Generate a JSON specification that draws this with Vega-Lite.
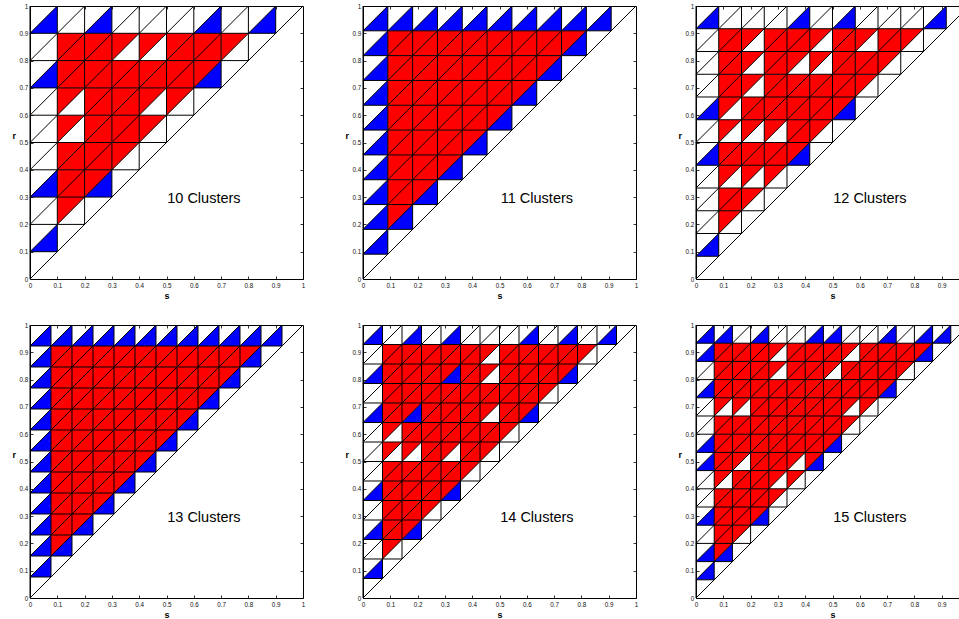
{
"$schema":"https://vega.github.io/schema/vega-lite/v6.json",
"background":"white",
"padding":{"left":11,"top":2,"right":0,"bottom":0},
"data":{"values":[
{"p":10,"label":"10 Clusters"},{"p":11,"label":"11 Clusters"},{"p":12,"label":"12 Clusters"},{"p":13,"label":"13 Clusters"},{"p":14,"label":"14 Clusters"},{"p":15,"label":"15 Clusters"},

{"p":10,"v":0,"w":1,"z":0,"o":1},{"p":10,"v":0.1,"w":0.9,"z":0,"o":1},{"p":10,"v":0.2,"w":0.8,"z":0,"o":1},{"p":10,"v":0.3,"w":0.7,"z":0,"o":1},{"p":10,"v":0.4,"w":0.6,"z":0,"o":1},{"p":10,"v":0.5,"w":0.5,"z":0,"o":1},{"p":10,"v":0.6,"w":0.4,"z":0,"o":1},{"p":10,"v":0.7,"w":0.3,"z":0,"o":1},{"p":10,"v":0.8,"w":0.2,"z":0,"o":1},{"p":10,"v":0.9,"w":0.1,"z":0,"o":1},
{"p":11,"v":0,"w":1,"z":0,"o":1},{"p":11,"v":0.0909,"w":0.9091,"z":0,"o":1},{"p":11,"v":0.1818,"w":0.8182,"z":0,"o":1},{"p":11,"v":0.2727,"w":0.7273,"z":0,"o":1},{"p":11,"v":0.3636,"w":0.6364,"z":0,"o":1},{"p":11,"v":0.4545,"w":0.5455,"z":0,"o":1},{"p":11,"v":0.5455,"w":0.4545,"z":0,"o":1},{"p":11,"v":0.6364,"w":0.3636,"z":0,"o":1},{"p":11,"v":0.7273,"w":0.2727,"z":0,"o":1},{"p":11,"v":0.8182,"w":0.1818,"z":0,"o":1},{"p":11,"v":0.9091,"w":0.0909,"z":0,"o":1},
{"p":12,"v":0,"w":1,"z":0,"o":1},{"p":12,"v":0.0833,"w":0.9167,"z":0,"o":1},{"p":12,"v":0.1667,"w":0.8333,"z":0,"o":1},{"p":12,"v":0.25,"w":0.75,"z":0,"o":1},{"p":12,"v":0.3333,"w":0.6667,"z":0,"o":1},{"p":12,"v":0.4167,"w":0.5833,"z":0,"o":1},{"p":12,"v":0.5,"w":0.5,"z":0,"o":1},{"p":12,"v":0.5833,"w":0.4167,"z":0,"o":1},{"p":12,"v":0.6667,"w":0.3333,"z":0,"o":1},{"p":12,"v":0.75,"w":0.25,"z":0,"o":1},{"p":12,"v":0.8333,"w":0.1667,"z":0,"o":1},{"p":12,"v":0.9167,"w":0.0833,"z":0,"o":1},
{"p":13,"v":0,"w":1,"z":0,"o":1},{"p":13,"v":0.0769,"w":0.9231,"z":0,"o":1},{"p":13,"v":0.1538,"w":0.8462,"z":0,"o":1},{"p":13,"v":0.2308,"w":0.7692,"z":0,"o":1},{"p":13,"v":0.3077,"w":0.6923,"z":0,"o":1},{"p":13,"v":0.3846,"w":0.6154,"z":0,"o":1},{"p":13,"v":0.4615,"w":0.5385,"z":0,"o":1},{"p":13,"v":0.5385,"w":0.4615,"z":0,"o":1},{"p":13,"v":0.6154,"w":0.3846,"z":0,"o":1},{"p":13,"v":0.6923,"w":0.3077,"z":0,"o":1},{"p":13,"v":0.7692,"w":0.2308,"z":0,"o":1},{"p":13,"v":0.8462,"w":0.1538,"z":0,"o":1},{"p":13,"v":0.9231,"w":0.0769,"z":0,"o":1},
{"p":14,"v":0,"w":1,"z":0,"o":1},{"p":14,"v":0.0714,"w":0.9286,"z":0,"o":1},{"p":14,"v":0.1429,"w":0.8571,"z":0,"o":1},{"p":14,"v":0.2143,"w":0.7857,"z":0,"o":1},{"p":14,"v":0.2857,"w":0.7143,"z":0,"o":1},{"p":14,"v":0.3571,"w":0.6429,"z":0,"o":1},{"p":14,"v":0.4286,"w":0.5714,"z":0,"o":1},{"p":14,"v":0.5,"w":0.5,"z":0,"o":1},{"p":14,"v":0.5714,"w":0.4286,"z":0,"o":1},{"p":14,"v":0.6429,"w":0.3571,"z":0,"o":1},{"p":14,"v":0.7143,"w":0.2857,"z":0,"o":1},{"p":14,"v":0.7857,"w":0.2143,"z":0,"o":1},{"p":14,"v":0.8571,"w":0.1429,"z":0,"o":1},{"p":14,"v":0.9286,"w":0.0714,"z":0,"o":1},
{"p":15,"v":0,"w":1,"z":0,"o":1},{"p":15,"v":0.0667,"w":0.9333,"z":0,"o":1},{"p":15,"v":0.1333,"w":0.8667,"z":0,"o":1},{"p":15,"v":0.2,"w":0.8,"z":0,"o":1},{"p":15,"v":0.2667,"w":0.7333,"z":0,"o":1},{"p":15,"v":0.3333,"w":0.6667,"z":0,"o":1},{"p":15,"v":0.4,"w":0.6,"z":0,"o":1},{"p":15,"v":0.4667,"w":0.5333,"z":0,"o":1},{"p":15,"v":0.5333,"w":0.4667,"z":0,"o":1},{"p":15,"v":0.6,"w":0.4,"z":0,"o":1},{"p":15,"v":0.6667,"w":0.3333,"z":0,"o":1},{"p":15,"v":0.7333,"w":0.2667,"z":0,"o":1},{"p":15,"v":0.8,"w":0.2,"z":0,"o":1},{"p":15,"v":0.8667,"w":0.1333,"z":0,"o":1},{"p":15,"v":0.9333,"w":0.0667,"z":0,"o":1},

{"p":10,"s":0.05,"r":0.95,"t":"B"},{"p":10,"s":0.25,"r":0.95,"t":"B"},{"p":10,"s":0.65,"r":0.95,"t":"B"},{"p":10,"s":0.85,"r":0.95,"t":"B"},
{"p":10,"s":0.15,"r":0.85,"t":"F"},{"p":10,"s":0.25,"r":0.85,"t":"F"},{"p":10,"s":0.35,"r":0.85,"t":"U"},{"p":10,"s":0.45,"r":0.85,"t":"U"},{"p":10,"s":0.55,"r":0.85,"t":"F"},{"p":10,"s":0.65,"r":0.85,"t":"F"},{"p":10,"s":0.75,"r":0.85,"t":"U"},
{"p":10,"s":0.05,"r":0.75,"t":"B"},{"p":10,"s":0.15,"r":0.75,"t":"F"},{"p":10,"s":0.25,"r":0.75,"t":"F"},{"p":10,"s":0.35,"r":0.75,"t":"F"},{"p":10,"s":0.45,"r":0.75,"t":"F"},{"p":10,"s":0.55,"r":0.75,"t":"F"},{"p":10,"s":0.65,"r":0.75,"t":"U"},{"p":10,"s":0.65,"r":0.75,"t":"B"},
{"p":10,"s":0.15,"r":0.65,"t":"U"},{"p":10,"s":0.25,"r":0.65,"t":"F"},{"p":10,"s":0.35,"r":0.65,"t":"F"},{"p":10,"s":0.45,"r":0.65,"t":"U"},{"p":10,"s":0.55,"r":0.65,"t":"U"},
{"p":10,"s":0.15,"r":0.55,"t":"U"},{"p":10,"s":0.25,"r":0.55,"t":"F"},{"p":10,"s":0.35,"r":0.55,"t":"F"},{"p":10,"s":0.45,"r":0.55,"t":"U"},
{"p":10,"s":0.15,"r":0.45,"t":"F"},{"p":10,"s":0.25,"r":0.45,"t":"F"},{"p":10,"s":0.35,"r":0.45,"t":"U"},
{"p":10,"s":0.05,"r":0.35,"t":"B"},{"p":10,"s":0.15,"r":0.35,"t":"F"},{"p":10,"s":0.25,"r":0.35,"t":"U"},{"p":10,"s":0.25,"r":0.35,"t":"B"},
{"p":10,"s":0.15,"r":0.25,"t":"U"},
{"p":10,"s":0.05,"r":0.15,"t":"B"},

{"p":11,"s":0.0455,"r":0.9545,"t":"B"},{"p":11,"s":0.1364,"r":0.9545,"t":"B"},{"p":11,"s":0.2273,"r":0.9545,"t":"B"},{"p":11,"s":0.3182,"r":0.9545,"t":"B"},{"p":11,"s":0.4091,"r":0.9545,"t":"B"},{"p":11,"s":0.5,"r":0.9545,"t":"B"},{"p":11,"s":0.5909,"r":0.9545,"t":"B"},{"p":11,"s":0.6818,"r":0.9545,"t":"B"},{"p":11,"s":0.7727,"r":0.9545,"t":"B"},{"p":11,"s":0.8636,"r":0.9545,"t":"B"},
{"p":11,"s":0.0455,"r":0.8636,"t":"B"},{"p":11,"s":0.1364,"r":0.8636,"t":"F"},{"p":11,"s":0.2273,"r":0.8636,"t":"F"},{"p":11,"s":0.3182,"r":0.8636,"t":"F"},{"p":11,"s":0.4091,"r":0.8636,"t":"F"},{"p":11,"s":0.5,"r":0.8636,"t":"F"},{"p":11,"s":0.5909,"r":0.8636,"t":"F"},{"p":11,"s":0.6818,"r":0.8636,"t":"F"},{"p":11,"s":0.7727,"r":0.8636,"t":"U"},{"p":11,"s":0.7727,"r":0.8636,"t":"B"},
{"p":11,"s":0.0455,"r":0.7727,"t":"B"},{"p":11,"s":0.1364,"r":0.7727,"t":"F"},{"p":11,"s":0.2273,"r":0.7727,"t":"F"},{"p":11,"s":0.3182,"r":0.7727,"t":"F"},{"p":11,"s":0.4091,"r":0.7727,"t":"F"},{"p":11,"s":0.5,"r":0.7727,"t":"F"},{"p":11,"s":0.5909,"r":0.7727,"t":"F"},{"p":11,"s":0.6818,"r":0.7727,"t":"U"},{"p":11,"s":0.6818,"r":0.7727,"t":"B"},
{"p":11,"s":0.0455,"r":0.6818,"t":"B"},{"p":11,"s":0.1364,"r":0.6818,"t":"F"},{"p":11,"s":0.2273,"r":0.6818,"t":"F"},{"p":11,"s":0.3182,"r":0.6818,"t":"F"},{"p":11,"s":0.4091,"r":0.6818,"t":"F"},{"p":11,"s":0.5,"r":0.6818,"t":"F"},{"p":11,"s":0.5909,"r":0.6818,"t":"U"},{"p":11,"s":0.5909,"r":0.6818,"t":"B"},
{"p":11,"s":0.0455,"r":0.5909,"t":"B"},{"p":11,"s":0.1364,"r":0.5909,"t":"F"},{"p":11,"s":0.2273,"r":0.5909,"t":"F"},{"p":11,"s":0.3182,"r":0.5909,"t":"F"},{"p":11,"s":0.4091,"r":0.5909,"t":"F"},{"p":11,"s":0.5,"r":0.5909,"t":"U"},{"p":11,"s":0.5,"r":0.5909,"t":"B"},
{"p":11,"s":0.0455,"r":0.5,"t":"B"},{"p":11,"s":0.1364,"r":0.5,"t":"F"},{"p":11,"s":0.2273,"r":0.5,"t":"F"},{"p":11,"s":0.3182,"r":0.5,"t":"F"},{"p":11,"s":0.4091,"r":0.5,"t":"U"},{"p":11,"s":0.4091,"r":0.5,"t":"B"},
{"p":11,"s":0.0455,"r":0.4091,"t":"B"},{"p":11,"s":0.1364,"r":0.4091,"t":"F"},{"p":11,"s":0.2273,"r":0.4091,"t":"F"},{"p":11,"s":0.3182,"r":0.4091,"t":"U"},{"p":11,"s":0.3182,"r":0.4091,"t":"B"},
{"p":11,"s":0.0455,"r":0.3182,"t":"B"},{"p":11,"s":0.1364,"r":0.3182,"t":"F"},{"p":11,"s":0.2273,"r":0.3182,"t":"U"},{"p":11,"s":0.2273,"r":0.3182,"t":"B"},
{"p":11,"s":0.0455,"r":0.2273,"t":"B"},{"p":11,"s":0.1364,"r":0.2273,"t":"U"},{"p":11,"s":0.1364,"r":0.2273,"t":"B"},
{"p":11,"s":0.0455,"r":0.1364,"t":"B"},

{"p":12,"s":0.0417,"r":0.9583,"t":"B"},{"p":12,"s":0.375,"r":0.9583,"t":"B"},{"p":12,"s":0.5417,"r":0.9583,"t":"B"},{"p":12,"s":0.875,"r":0.9583,"t":"B"},
{"p":12,"s":0.125,"r":0.875,"t":"F"},{"p":12,"s":0.2083,"r":0.875,"t":"U"},{"p":12,"s":0.2917,"r":0.875,"t":"F"},{"p":12,"s":0.375,"r":0.875,"t":"F"},{"p":12,"s":0.4583,"r":0.875,"t":"U"},{"p":12,"s":0.5417,"r":0.875,"t":"F"},{"p":12,"s":0.625,"r":0.875,"t":"U"},{"p":12,"s":0.7083,"r":0.875,"t":"F"},{"p":12,"s":0.7917,"r":0.875,"t":"U"},
{"p":12,"s":0.125,"r":0.7917,"t":"F"},{"p":12,"s":0.2083,"r":0.7917,"t":"U"},{"p":12,"s":0.2917,"r":0.7917,"t":"F"},{"p":12,"s":0.375,"r":0.7917,"t":"U"},{"p":12,"s":0.4583,"r":0.7917,"t":"U"},{"p":12,"s":0.5417,"r":0.7917,"t":"F"},{"p":12,"s":0.625,"r":0.7917,"t":"F"},{"p":12,"s":0.7083,"r":0.7917,"t":"U"},
{"p":12,"s":0.125,"r":0.7083,"t":"F"},{"p":12,"s":0.2083,"r":0.7083,"t":"U"},{"p":12,"s":0.2917,"r":0.7083,"t":"F"},{"p":12,"s":0.375,"r":0.7083,"t":"F"},{"p":12,"s":0.4583,"r":0.7083,"t":"F"},{"p":12,"s":0.5417,"r":0.7083,"t":"F"},{"p":12,"s":0.625,"r":0.7083,"t":"U"},
{"p":12,"s":0.0417,"r":0.625,"t":"B"},{"p":12,"s":0.125,"r":0.625,"t":"U"},{"p":12,"s":0.2083,"r":0.625,"t":"F"},{"p":12,"s":0.2917,"r":0.625,"t":"F"},{"p":12,"s":0.375,"r":0.625,"t":"F"},{"p":12,"s":0.4583,"r":0.625,"t":"F"},{"p":12,"s":0.5417,"r":0.625,"t":"U"},{"p":12,"s":0.5417,"r":0.625,"t":"B"},
{"p":12,"s":0.125,"r":0.5417,"t":"U"},{"p":12,"s":0.2083,"r":0.5417,"t":"U"},{"p":12,"s":0.2917,"r":0.5417,"t":"U"},{"p":12,"s":0.375,"r":0.5417,"t":"F"},{"p":12,"s":0.4583,"r":0.5417,"t":"U"},
{"p":12,"s":0.0417,"r":0.4583,"t":"B"},{"p":12,"s":0.125,"r":0.4583,"t":"F"},{"p":12,"s":0.2083,"r":0.4583,"t":"F"},{"p":12,"s":0.2917,"r":0.4583,"t":"F"},{"p":12,"s":0.375,"r":0.4583,"t":"U"},{"p":12,"s":0.375,"r":0.4583,"t":"B"},
{"p":12,"s":0.125,"r":0.375,"t":"U"},{"p":12,"s":0.2083,"r":0.375,"t":"U"},{"p":12,"s":0.2917,"r":0.375,"t":"U"},
{"p":12,"s":0.125,"r":0.2917,"t":"F"},{"p":12,"s":0.2083,"r":0.2917,"t":"U"},
{"p":12,"s":0.125,"r":0.2083,"t":"U"},
{"p":12,"s":0.0417,"r":0.125,"t":"B"},

{"p":13,"s":0.0385,"r":0.9615,"t":"B"},{"p":13,"s":0.1154,"r":0.9615,"t":"B"},{"p":13,"s":0.1923,"r":0.9615,"t":"B"},{"p":13,"s":0.2692,"r":0.9615,"t":"B"},{"p":13,"s":0.3462,"r":0.9615,"t":"B"},{"p":13,"s":0.4231,"r":0.9615,"t":"B"},{"p":13,"s":0.5,"r":0.9615,"t":"B"},{"p":13,"s":0.5769,"r":0.9615,"t":"B"},{"p":13,"s":0.6538,"r":0.9615,"t":"B"},{"p":13,"s":0.7308,"r":0.9615,"t":"B"},{"p":13,"s":0.8077,"r":0.9615,"t":"B"},{"p":13,"s":0.8846,"r":0.9615,"t":"B"},
{"p":13,"s":0.0385,"r":0.8846,"t":"B"},{"p":13,"s":0.1154,"r":0.8846,"t":"F"},{"p":13,"s":0.1923,"r":0.8846,"t":"F"},{"p":13,"s":0.2692,"r":0.8846,"t":"F"},{"p":13,"s":0.3462,"r":0.8846,"t":"F"},{"p":13,"s":0.4231,"r":0.8846,"t":"F"},{"p":13,"s":0.5,"r":0.8846,"t":"F"},{"p":13,"s":0.5769,"r":0.8846,"t":"F"},{"p":13,"s":0.6538,"r":0.8846,"t":"F"},{"p":13,"s":0.7308,"r":0.8846,"t":"F"},{"p":13,"s":0.8077,"r":0.8846,"t":"U"},{"p":13,"s":0.8077,"r":0.8846,"t":"B"},
{"p":13,"s":0.0385,"r":0.8077,"t":"B"},{"p":13,"s":0.1154,"r":0.8077,"t":"F"},{"p":13,"s":0.1923,"r":0.8077,"t":"F"},{"p":13,"s":0.2692,"r":0.8077,"t":"F"},{"p":13,"s":0.3462,"r":0.8077,"t":"F"},{"p":13,"s":0.4231,"r":0.8077,"t":"F"},{"p":13,"s":0.5,"r":0.8077,"t":"F"},{"p":13,"s":0.5769,"r":0.8077,"t":"F"},{"p":13,"s":0.6538,"r":0.8077,"t":"F"},{"p":13,"s":0.7308,"r":0.8077,"t":"U"},{"p":13,"s":0.7308,"r":0.8077,"t":"B"},
{"p":13,"s":0.0385,"r":0.7308,"t":"B"},{"p":13,"s":0.1154,"r":0.7308,"t":"F"},{"p":13,"s":0.1923,"r":0.7308,"t":"F"},{"p":13,"s":0.2692,"r":0.7308,"t":"F"},{"p":13,"s":0.3462,"r":0.7308,"t":"F"},{"p":13,"s":0.4231,"r":0.7308,"t":"F"},{"p":13,"s":0.5,"r":0.7308,"t":"F"},{"p":13,"s":0.5769,"r":0.7308,"t":"F"},{"p":13,"s":0.6538,"r":0.7308,"t":"U"},{"p":13,"s":0.6538,"r":0.7308,"t":"B"},
{"p":13,"s":0.0385,"r":0.6538,"t":"B"},{"p":13,"s":0.1154,"r":0.6538,"t":"F"},{"p":13,"s":0.1923,"r":0.6538,"t":"F"},{"p":13,"s":0.2692,"r":0.6538,"t":"F"},{"p":13,"s":0.3462,"r":0.6538,"t":"F"},{"p":13,"s":0.4231,"r":0.6538,"t":"F"},{"p":13,"s":0.5,"r":0.6538,"t":"F"},{"p":13,"s":0.5769,"r":0.6538,"t":"U"},{"p":13,"s":0.5769,"r":0.6538,"t":"B"},
{"p":13,"s":0.0385,"r":0.5769,"t":"B"},{"p":13,"s":0.1154,"r":0.5769,"t":"F"},{"p":13,"s":0.1923,"r":0.5769,"t":"F"},{"p":13,"s":0.2692,"r":0.5769,"t":"F"},{"p":13,"s":0.3462,"r":0.5769,"t":"F"},{"p":13,"s":0.4231,"r":0.5769,"t":"F"},{"p":13,"s":0.5,"r":0.5769,"t":"U"},{"p":13,"s":0.5,"r":0.5769,"t":"B"},
{"p":13,"s":0.0385,"r":0.5,"t":"B"},{"p":13,"s":0.1154,"r":0.5,"t":"F"},{"p":13,"s":0.1923,"r":0.5,"t":"F"},{"p":13,"s":0.2692,"r":0.5,"t":"F"},{"p":13,"s":0.3462,"r":0.5,"t":"F"},{"p":13,"s":0.4231,"r":0.5,"t":"U"},{"p":13,"s":0.4231,"r":0.5,"t":"B"},
{"p":13,"s":0.0385,"r":0.4231,"t":"B"},{"p":13,"s":0.1154,"r":0.4231,"t":"F"},{"p":13,"s":0.1923,"r":0.4231,"t":"F"},{"p":13,"s":0.2692,"r":0.4231,"t":"F"},{"p":13,"s":0.3462,"r":0.4231,"t":"U"},{"p":13,"s":0.3462,"r":0.4231,"t":"B"},
{"p":13,"s":0.0385,"r":0.3462,"t":"B"},{"p":13,"s":0.1154,"r":0.3462,"t":"F"},{"p":13,"s":0.1923,"r":0.3462,"t":"F"},{"p":13,"s":0.2692,"r":0.3462,"t":"U"},{"p":13,"s":0.2692,"r":0.3462,"t":"B"},
{"p":13,"s":0.0385,"r":0.2692,"t":"B"},{"p":13,"s":0.1154,"r":0.2692,"t":"F"},{"p":13,"s":0.1923,"r":0.2692,"t":"U"},{"p":13,"s":0.1923,"r":0.2692,"t":"B"},
{"p":13,"s":0.0385,"r":0.1923,"t":"B"},{"p":13,"s":0.1154,"r":0.1923,"t":"U"},{"p":13,"s":0.1154,"r":0.1923,"t":"B"},
{"p":13,"s":0.0385,"r":0.1154,"t":"B"},

{"p":14,"s":0.0357,"r":0.9643,"t":"B"},{"p":14,"s":0.1786,"r":0.9643,"t":"B"},{"p":14,"s":0.3214,"r":0.9643,"t":"B"},{"p":14,"s":0.6071,"r":0.9643,"t":"B"},{"p":14,"s":0.75,"r":0.9643,"t":"B"},{"p":14,"s":0.8929,"r":0.9643,"t":"B"},
{"p":14,"s":0.1071,"r":0.8929,"t":"F"},{"p":14,"s":0.1786,"r":0.8929,"t":"F"},{"p":14,"s":0.25,"r":0.8929,"t":"F"},{"p":14,"s":0.3214,"r":0.8929,"t":"F"},{"p":14,"s":0.3929,"r":0.8929,"t":"F"},{"p":14,"s":0.4643,"r":0.8929,"t":"U"},{"p":14,"s":0.5357,"r":0.8929,"t":"F"},{"p":14,"s":0.6071,"r":0.8929,"t":"F"},{"p":14,"s":0.6786,"r":0.8929,"t":"F"},{"p":14,"s":0.75,"r":0.8929,"t":"F"},{"p":14,"s":0.8214,"r":0.8929,"t":"U"},
{"p":14,"s":0.0357,"r":0.8214,"t":"B"},{"p":14,"s":0.1071,"r":0.8214,"t":"F"},{"p":14,"s":0.1786,"r":0.8214,"t":"F"},{"p":14,"s":0.25,"r":0.8214,"t":"F"},{"p":14,"s":0.3214,"r":0.8214,"t":"U"},{"p":14,"s":0.3214,"r":0.8214,"t":"B"},{"p":14,"s":0.3929,"r":0.8214,"t":"F"},{"p":14,"s":0.4643,"r":0.8214,"t":"U"},{"p":14,"s":0.5357,"r":0.8214,"t":"F"},{"p":14,"s":0.6071,"r":0.8214,"t":"F"},{"p":14,"s":0.6786,"r":0.8214,"t":"F"},{"p":14,"s":0.75,"r":0.8214,"t":"U"},{"p":14,"s":0.75,"r":0.8214,"t":"B"},
{"p":14,"s":0.1071,"r":0.75,"t":"F"},{"p":14,"s":0.1786,"r":0.75,"t":"F"},{"p":14,"s":0.25,"r":0.75,"t":"F"},{"p":14,"s":0.3214,"r":0.75,"t":"F"},{"p":14,"s":0.3929,"r":0.75,"t":"F"},{"p":14,"s":0.4643,"r":0.75,"t":"F"},{"p":14,"s":0.5357,"r":0.75,"t":"F"},{"p":14,"s":0.6071,"r":0.75,"t":"F"},{"p":14,"s":0.6786,"r":0.75,"t":"U"},
{"p":14,"s":0.0357,"r":0.6786,"t":"B"},{"p":14,"s":0.1071,"r":0.6786,"t":"F"},{"p":14,"s":0.1786,"r":0.6786,"t":"U"},{"p":14,"s":0.1786,"r":0.6786,"t":"B"},{"p":14,"s":0.25,"r":0.6786,"t":"F"},{"p":14,"s":0.3214,"r":0.6786,"t":"F"},{"p":14,"s":0.3929,"r":0.6786,"t":"F"},{"p":14,"s":0.4643,"r":0.6786,"t":"U"},{"p":14,"s":0.5357,"r":0.6786,"t":"F"},{"p":14,"s":0.6071,"r":0.6786,"t":"U"},{"p":14,"s":0.6071,"r":0.6786,"t":"B"},
{"p":14,"s":0.1071,"r":0.6071,"t":"U"},{"p":14,"s":0.1786,"r":0.6071,"t":"F"},{"p":14,"s":0.25,"r":0.6071,"t":"F"},{"p":14,"s":0.3214,"r":0.6071,"t":"F"},{"p":14,"s":0.3929,"r":0.6071,"t":"F"},{"p":14,"s":0.4643,"r":0.6071,"t":"F"},{"p":14,"s":0.5357,"r":0.6071,"t":"U"},
{"p":14,"s":0.1071,"r":0.5357,"t":"U"},{"p":14,"s":0.1786,"r":0.5357,"t":"U"},{"p":14,"s":0.25,"r":0.5357,"t":"F"},{"p":14,"s":0.3214,"r":0.5357,"t":"U"},{"p":14,"s":0.3929,"r":0.5357,"t":"F"},{"p":14,"s":0.4643,"r":0.5357,"t":"U"},
{"p":14,"s":0.1071,"r":0.4643,"t":"F"},{"p":14,"s":0.1786,"r":0.4643,"t":"F"},{"p":14,"s":0.25,"r":0.4643,"t":"F"},{"p":14,"s":0.3214,"r":0.4643,"t":"F"},{"p":14,"s":0.3929,"r":0.4643,"t":"U"},
{"p":14,"s":0.0357,"r":0.3929,"t":"B"},{"p":14,"s":0.1071,"r":0.3929,"t":"F"},{"p":14,"s":0.1786,"r":0.3929,"t":"F"},{"p":14,"s":0.25,"r":0.3929,"t":"F"},{"p":14,"s":0.3214,"r":0.3929,"t":"U"},{"p":14,"s":0.3214,"r":0.3929,"t":"B"},
{"p":14,"s":0.1071,"r":0.3214,"t":"F"},{"p":14,"s":0.1786,"r":0.3214,"t":"F"},{"p":14,"s":0.25,"r":0.3214,"t":"U"},
{"p":14,"s":0.0357,"r":0.25,"t":"B"},{"p":14,"s":0.1071,"r":0.25,"t":"F"},{"p":14,"s":0.1786,"r":0.25,"t":"U"},{"p":14,"s":0.1786,"r":0.25,"t":"B"},
{"p":14,"s":0.1071,"r":0.1786,"t":"U"},
{"p":14,"s":0.0357,"r":0.1071,"t":"B"},

{"p":15,"s":0.0333,"r":0.9667,"t":"B"},{"p":15,"s":0.1,"r":0.9667,"t":"B"},{"p":15,"s":0.2333,"r":0.9667,"t":"B"},{"p":15,"s":0.4333,"r":0.9667,"t":"B"},{"p":15,"s":0.5,"r":0.9667,"t":"B"},{"p":15,"s":0.7,"r":0.9667,"t":"B"},{"p":15,"s":0.8333,"r":0.9667,"t":"B"},{"p":15,"s":0.9,"r":0.9667,"t":"B"},
{"p":15,"s":0.0333,"r":0.9,"t":"B"},{"p":15,"s":0.1,"r":0.9,"t":"F"},{"p":15,"s":0.1667,"r":0.9,"t":"F"},{"p":15,"s":0.2333,"r":0.9,"t":"F"},{"p":15,"s":0.3,"r":0.9,"t":"U"},{"p":15,"s":0.3667,"r":0.9,"t":"F"},{"p":15,"s":0.4333,"r":0.9,"t":"F"},{"p":15,"s":0.5,"r":0.9,"t":"F"},{"p":15,"s":0.5667,"r":0.9,"t":"U"},{"p":15,"s":0.6333,"r":0.9,"t":"F"},{"p":15,"s":0.7,"r":0.9,"t":"F"},{"p":15,"s":0.7667,"r":0.9,"t":"F"},{"p":15,"s":0.8333,"r":0.9,"t":"U"},{"p":15,"s":0.8333,"r":0.9,"t":"B"},
{"p":15,"s":0.1,"r":0.8333,"t":"F"},{"p":15,"s":0.1667,"r":0.8333,"t":"F"},{"p":15,"s":0.2333,"r":0.8333,"t":"F"},{"p":15,"s":0.3,"r":0.8333,"t":"U"},{"p":15,"s":0.3667,"r":0.8333,"t":"F"},{"p":15,"s":0.4333,"r":0.8333,"t":"F"},{"p":15,"s":0.5,"r":0.8333,"t":"U"},{"p":15,"s":0.5667,"r":0.8333,"t":"F"},{"p":15,"s":0.6333,"r":0.8333,"t":"F"},{"p":15,"s":0.7,"r":0.8333,"t":"F"},{"p":15,"s":0.7667,"r":0.8333,"t":"U"},
{"p":15,"s":0.0333,"r":0.7667,"t":"B"},{"p":15,"s":0.1,"r":0.7667,"t":"F"},{"p":15,"s":0.1667,"r":0.7667,"t":"F"},{"p":15,"s":0.2333,"r":0.7667,"t":"F"},{"p":15,"s":0.3,"r":0.7667,"t":"F"},{"p":15,"s":0.3667,"r":0.7667,"t":"F"},{"p":15,"s":0.4333,"r":0.7667,"t":"F"},{"p":15,"s":0.5,"r":0.7667,"t":"F"},{"p":15,"s":0.5667,"r":0.7667,"t":"F"},{"p":15,"s":0.6333,"r":0.7667,"t":"F"},{"p":15,"s":0.7,"r":0.7667,"t":"U"},{"p":15,"s":0.7,"r":0.7667,"t":"B"},
{"p":15,"s":0.1,"r":0.7,"t":"U"},{"p":15,"s":0.1667,"r":0.7,"t":"U"},{"p":15,"s":0.2333,"r":0.7,"t":"F"},{"p":15,"s":0.3,"r":0.7,"t":"F"},{"p":15,"s":0.3667,"r":0.7,"t":"F"},{"p":15,"s":0.4333,"r":0.7,"t":"F"},{"p":15,"s":0.5,"r":0.7,"t":"F"},{"p":15,"s":0.5667,"r":0.7,"t":"U"},{"p":15,"s":0.6333,"r":0.7,"t":"U"},
{"p":15,"s":0.1,"r":0.6333,"t":"F"},{"p":15,"s":0.1667,"r":0.6333,"t":"F"},{"p":15,"s":0.2333,"r":0.6333,"t":"F"},{"p":15,"s":0.3,"r":0.6333,"t":"F"},{"p":15,"s":0.3667,"r":0.6333,"t":"F"},{"p":15,"s":0.4333,"r":0.6333,"t":"F"},{"p":15,"s":0.5,"r":0.6333,"t":"F"},{"p":15,"s":0.5667,"r":0.6333,"t":"U"},
{"p":15,"s":0.0333,"r":0.5667,"t":"B"},{"p":15,"s":0.1,"r":0.5667,"t":"F"},{"p":15,"s":0.1667,"r":0.5667,"t":"F"},{"p":15,"s":0.2333,"r":0.5667,"t":"F"},{"p":15,"s":0.3,"r":0.5667,"t":"F"},{"p":15,"s":0.3667,"r":0.5667,"t":"F"},{"p":15,"s":0.4333,"r":0.5667,"t":"F"},{"p":15,"s":0.5,"r":0.5667,"t":"U"},{"p":15,"s":0.5,"r":0.5667,"t":"B"},
{"p":15,"s":0.0333,"r":0.5,"t":"B"},{"p":15,"s":0.1,"r":0.5,"t":"F"},{"p":15,"s":0.1667,"r":0.5,"t":"U"},{"p":15,"s":0.2333,"r":0.5,"t":"F"},{"p":15,"s":0.3,"r":0.5,"t":"F"},{"p":15,"s":0.3667,"r":0.5,"t":"U"},{"p":15,"s":0.4333,"r":0.5,"t":"U"},{"p":15,"s":0.4333,"r":0.5,"t":"B"},
{"p":15,"s":0.1,"r":0.4333,"t":"U"},{"p":15,"s":0.1667,"r":0.4333,"t":"F"},{"p":15,"s":0.2333,"r":0.4333,"t":"F"},{"p":15,"s":0.3,"r":0.4333,"t":"U"},{"p":15,"s":0.3667,"r":0.4333,"t":"U"},
{"p":15,"s":0.1,"r":0.3667,"t":"F"},{"p":15,"s":0.1667,"r":0.3667,"t":"F"},{"p":15,"s":0.2333,"r":0.3667,"t":"F"},{"p":15,"s":0.3,"r":0.3667,"t":"U"},
{"p":15,"s":0.0333,"r":0.3,"t":"B"},{"p":15,"s":0.1,"r":0.3,"t":"F"},{"p":15,"s":0.1667,"r":0.3,"t":"F"},{"p":15,"s":0.2333,"r":0.3,"t":"U"},{"p":15,"s":0.2333,"r":0.3,"t":"B"},
{"p":15,"s":0.1,"r":0.2333,"t":"F"},{"p":15,"s":0.1667,"r":0.2333,"t":"U"},
{"p":15,"s":0.0333,"r":0.1667,"t":"B"},{"p":15,"s":0.1,"r":0.1667,"t":"U"},{"p":15,"s":0.1,"r":0.1667,"t":"B"},
{"p":15,"s":0.0333,"r":0.1,"t":"B"}
]},
"columns":3,
"bounds":"flush",
"spacing":{"row":46,"column":60},
"facet":{"field":"p","type":"ordinal","title":null,"header":{"labels":false,"title":null,"labelPadding":0,"labelFontSize":0,"labelExpr":"''"}},
"resolve":{"axis":{"x":"independent","y":"independent"}},
"spec":{
 "width":273,"height":273,
 "resolve":{"axis":{"x":"independent","y":"independent"}},
 "layer":[
  {"transform":[{"filter":"datum.t"}],
   "mark":{"type":"point","filled":true,"opacity":1,"strokeWidth":0},
   "encoding":{
    "x":{"field":"s","type":"quantitative","scale":{"domain":[0,1],"nice":false,"zero":false},
     "axis":{"orient":"bottom","values":[0,0.1,0.2,0.3,0.4,0.5,0.6,0.7,0.8,0.9,1],"format":"~g","title":"s","titleY":16.8,"titleBaseline":"middle","labelPadding":6}},
    "y":{"field":"r","type":"quantitative","scale":{"domain":[0,1],"nice":false,"zero":false},
     "axis":{"orient":"left","values":[0,0.1,0.2,0.3,0.4,0.5,0.6,0.7,0.8,0.9,1],"format":"~g","title":"r","titleAngle":0,"titleX":-16.3,"titleY":129.5,"titleAlign":"center","titleBaseline":"middle","labelPadding":5.3}},
    "color":{"field":"t","type":"nominal","scale":{"domain":["F","U","B"],"range":["#ff0000","#ff0000","#0000ff"]},"legend":null},
    "shape":{"field":"t","type":"nominal","scale":{"domain":["F","U","B"],"range":["M-1,-1L1,-1L1,1L-1,1Z","M-1,1L-1,-1L1,-1Z","M-1,1L1,1L1,-1Z"]},"legend":null},
    "size":{"field":"p","type":"quantitative","scale":{"type":"pow","exponent":-2,"domain":[10,15],"range":[745.29,331.24],"zero":false},"legend":null}
   }},
  {"transform":[{"filter":"datum.w != null"}],
   "mark":{"type":"rule","color":"black","strokeWidth":1},
   "encoding":{
    "x":{"field":"z","type":"quantitative","axis":null},
    "y":{"field":"v","type":"quantitative","axis":null},
    "x2":{"field":"v"}}},
  {"transform":[{"filter":"datum.w != null"}],
   "mark":{"type":"rule","color":"black","strokeWidth":1},
   "encoding":{
    "x":{"field":"v","type":"quantitative",
     "axis":{"orient":"top","values":[0.1,0.2,0.3,0.4,0.5,0.6,0.7,0.8,0.9],"labels":false,"title":null}},
    "y":{"field":"v","type":"quantitative",
     "axis":{"orient":"right","values":[0.1,0.2,0.3,0.4,0.5,0.6,0.7,0.8,0.9],"labels":false,"title":null}},
    "y2":{"field":"o"}}},
  {"transform":[{"filter":"datum.w != null"}],
   "mark":{"type":"rule","color":"black","strokeWidth":1},
   "encoding":{
    "x":{"field":"z","type":"quantitative","axis":null},
    "y":{"field":"v","type":"quantitative","axis":null},
    "x2":{"field":"w"},
    "y2":{"field":"o"}}},
  {"transform":[{"filter":"datum.label"}],
   "mark":{"type":"text","font":"Liberation Sans","fontSize":14.5,"align":"center","baseline":"alphabetic","color":"black"},
   "encoding":{
    "x":{"datum":0.637,"type":"quantitative","axis":null},
    "y":{"datum":0.277,"type":"quantitative","axis":null},
    "text":{"field":"label"}}}
 ]
},
"config":{
 "view":{"stroke":"black","strokeWidth":1},
 "header":{"labels":false,"title":null,"labelPadding":0,"labelFontSize":0},
 "headerFacet":{"labels":false,"title":null,"labelPadding":0,"labelFontSize":0},
 "headerColumn":{"labels":false,"title":null,"labelPadding":0,"labelFontSize":0},
 "axis":{"labelFont":"Liberation Sans","labelFontSize":6.3,"labelColor":"#111111","tickColor":"black","tickSize":-3,"tickWidth":0.8,"domain":false,"grid":false,"labelFlush":false,"labelOverlap":false,"labelBound":false,"titleFont":"Liberation Sans","titleFontSize":9,"titleFontWeight":"bold","titleColor":"black"}
}
}
